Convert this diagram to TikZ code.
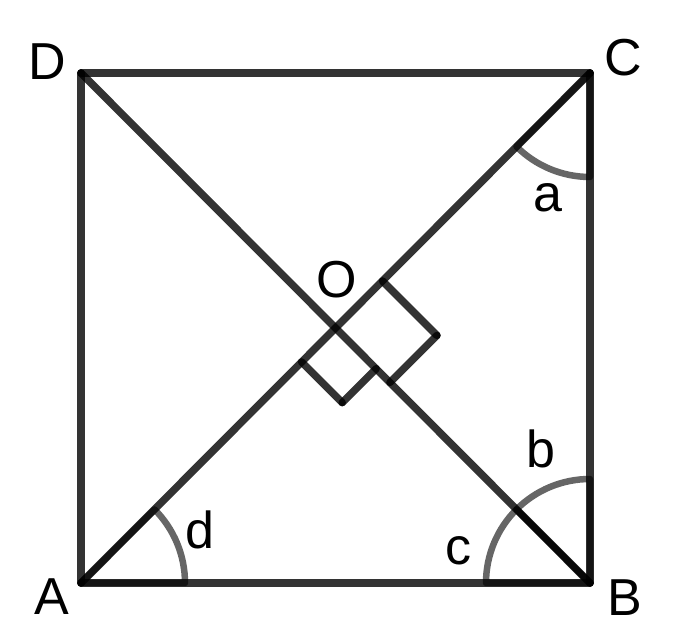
\documentclass[tikz,border=0pt]{standalone}
\usepackage{fontspec}
\setmainfont{Liberation Sans}
\usetikzlibrary{calc}
\begin{document}
\begin{tikzpicture}[x=1pt,y=1pt,
  edge/.style={draw=black, draw opacity=0.8, line width=7.5pt, line cap=round},
  angmark/.style={draw=black, draw opacity=0.6, line width=6.5pt, line join=round},
  lbl/.style={inner sep=0pt, font=\fontsize{52}{60}\selectfont}]
\useasboundingbox (0,0) rectangle (675,643);
\coordinate (A) at (81,60);
\coordinate (B) at (590,60);
\coordinate (C) at (590,570);
\coordinate (D) at (81,570);
\coordinate (O) at (335.5,315);
% square sides and diagonals
\draw[edge] (A) -- (B);
\draw[edge] (B) -- (C);
\draw[edge] (C) -- (D);
\draw[edge] (D) -- (A);
\draw[edge] (A) -- (C);
\draw[edge] (B) -- (D);
% right-angle markers
\coordinate (P1) at ($(O)+(45:66.5)$);
\coordinate (P3) at ($(O)+(-45:77)$);
\coordinate (P2) at ($(P1)+(P3)-(O)$);
\coordinate (Q1) at ($(O)+(225:48)$);
\coordinate (Q3) at ($(O)+(-45:57.5)$);
\coordinate (Q2) at ($(Q1)+(Q3)-(O)$);
\draw[edge] (P1) -- (P2);
\draw[edge] (P2) -- (P3);
\draw[edge] (Q1) -- (Q2);
\draw[edge] (Q2) -- (Q3);
% angle marks
\draw[angmark] (A) -- ++(0:104) arc[start angle=0,end angle=45,radius=104] -- cycle;
\draw[angmark] (B) -- ++(180:104) arc[start angle=180,end angle=135,radius=104] -- cycle;
\draw[angmark] (B) -- ++(90:104) arc[start angle=90,end angle=135,radius=104] -- cycle;
\draw[angmark] (C) -- ++(270:104) arc[start angle=270,end angle=225,radius=104] -- cycle;
% labels
\node[lbl] (lA) at (52,46) {A};
\node[lbl] (lB) at (625,45) {B};
\node[lbl] (lC) at (623,585.5) {C};
\node[lbl] (lD) at (47,581.5) {D};
\node[lbl] (lO) at (337,363) {O};
\node[lbl] (la) at (547.5,445) {a};
\node[lbl] (lb) at (540.5,194.5) {b};
\node[lbl] (lc) at (458.7,92) {c};
\node[lbl] (ld) at (200,113) {d};
\end{tikzpicture}
\end{document}
